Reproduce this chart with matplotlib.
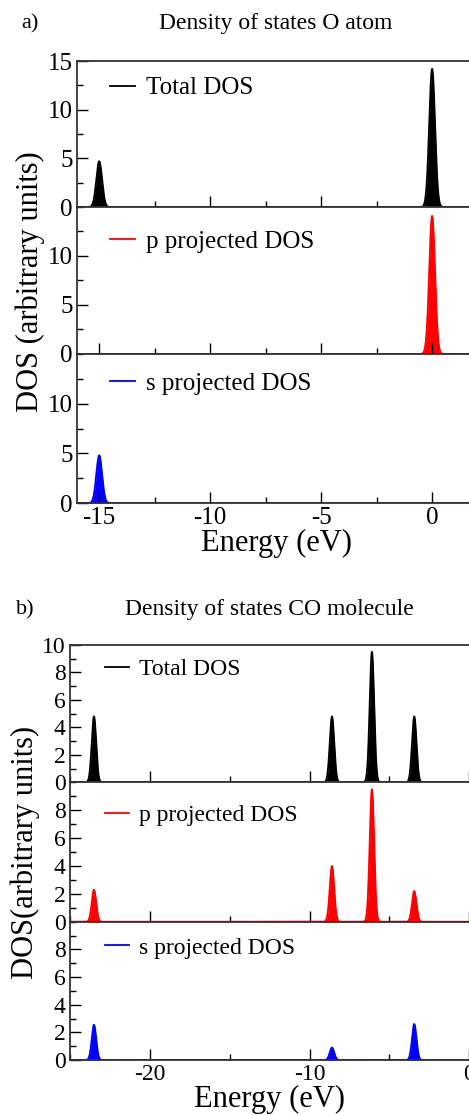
import matplotlib.pyplot as plt
import numpy as np
from matplotlib.ticker import MultipleLocator

plt.rcParams['font.family'] = ['Liberation Serif', 'DejaVu Serif']
plt.rcParams['axes.unicode_minus'] = False

# O atom: peak energies (eV) and heights
A_E = [-15.0, 0.0]
A_TOTAL = [4.7, 14.2]
A_P = [0.0, 14.1]
A_S = [4.8, 0.0]

# CO molecule: peak energies (eV) and heights
B_E = [-23.5, -8.6, -6.1, -3.45]
B_TOTAL = [4.8, 4.8, 9.5, 4.8]
B_P = [2.3, 4.0, 9.5, 2.2]
B_S = [2.55, 0.9, 0.0, 2.6]

LABELS = ['Total DOS', 'p projected DOS', 's projected DOS']
COLORS = ['black', 'red', 'blue']

W, H = 469, 1115


def broaden(grid, energies, heights, sigma):
    dos = np.zeros_like(grid)
    for e, h in zip(energies, heights):
        dos += h * np.exp(-0.5 * ((grid - e) / sigma) ** 2)
    return dos


def px_axes(fig, left, right, top, bottom):
    return fig.add_axes([left / W, 1 - bottom / H, (right - left) / W, (bottom - top) / H])


def panel(fig, left, right, rows, xlim, ylim, series, energies, sigma,
          xmaj, xmin, ymin, top_ticks, other_ticks, leg_x, leg_y,
          fs_tick, fs_leg):
    grid = np.linspace(xlim[0], xlim[1], 4000)
    axes = []
    for i in range(3):
        ax = px_axes(fig, left, right, rows[i], rows[i + 1])
        dos = broaden(grid, energies, series[i], sigma)
        ax.fill_between(grid, 0, dos, color=COLORS[i], lw=0)
        ax.plot(grid, dos, color=COLORS[i], lw=1.3, label=LABELS[i])
        ax.set_xlim(*xlim)
        ax.set_ylim(*ylim)
        ax.xaxis.set_major_locator(MultipleLocator(xmaj))
        ax.xaxis.set_minor_locator(MultipleLocator(xmin))
        ax.set_yticks(top_ticks if i == 0 else other_ticks)
        ax.yaxis.set_minor_locator(MultipleLocator(ymin))
        ax.tick_params(which='both', direction='in', top=False, right=False,
                       labelsize=fs_tick, width=1.0, pad=3)
        ax.tick_params(which='major', length=8)
        ax.tick_params(which='minor', length=4)
        if i < 2:
            ax.tick_params(labelbottom=False)
        for s in ax.spines.values():
            s.set_linewidth(1.3)
            s.set_color('#333333')
        ax.legend(loc='center left', bbox_to_anchor=(leg_x, 1 - leg_y[i]),
                  frameon=False, borderpad=0, borderaxespad=0,
                  handlelength=1.0, handletextpad=0.45, fontsize=fs_leg)
        axes.append(ax)
    axes[2].set_xlabel('Energy (eV)', fontsize=22, labelpad=0)
    return axes


fig = plt.figure(figsize=(W / 100, H / 100), dpi=100)

# panel a
fig.text(30 / W, 1 - 24 / H, 'a)', fontsize=16, ha='center', va='center')
fig.text(276 / W, 1 - 24 / H, 'Density of states O atom', fontsize=17,
         ha='center', va='center')
panel(fig, 77, 476.5, [61, 207, 354, 503], (-16, 2), (0, 15),
      [A_TOTAL, A_P, A_S], A_E, 0.13, 5, 2.5, 2.5,
      [0, 5, 10, 15], [0, 5, 10], 0.083, [0.185, 0.238, 0.197],
      18, 18)
fig.text(30 / W, 1 - 282 / H, 'DOS (arbitrary units)', fontsize=22,
         rotation=90, ha='center', va='center')

# panel b
fig.text(25 / W, 1 - 610 / H, 'b)', fontsize=16, ha='center', va='center')
fig.text(269 / W, 1 - 610 / H, 'Density of states CO molecule', fontsize=17,
         ha='center', va='center')
panel(fig, 70, 470, [645, 782.3, 921.7, 1060], (-25, 0.04), (0, 10),
      [B_TOTAL, B_P, B_S], B_E, 0.14, 10, 5, 1,
      [0, 2, 4, 6, 8, 10], [0, 2, 4, 6, 8], 0.0875, [0.18, 0.236, 0.19],
      17, 17)
fig.text(25 / W, 1 - 852 / H, 'DOS(arbitrary units)', fontsize=22,
         rotation=90, ha='center', va='center')

plt.savefig('out.png', dpi=100)
